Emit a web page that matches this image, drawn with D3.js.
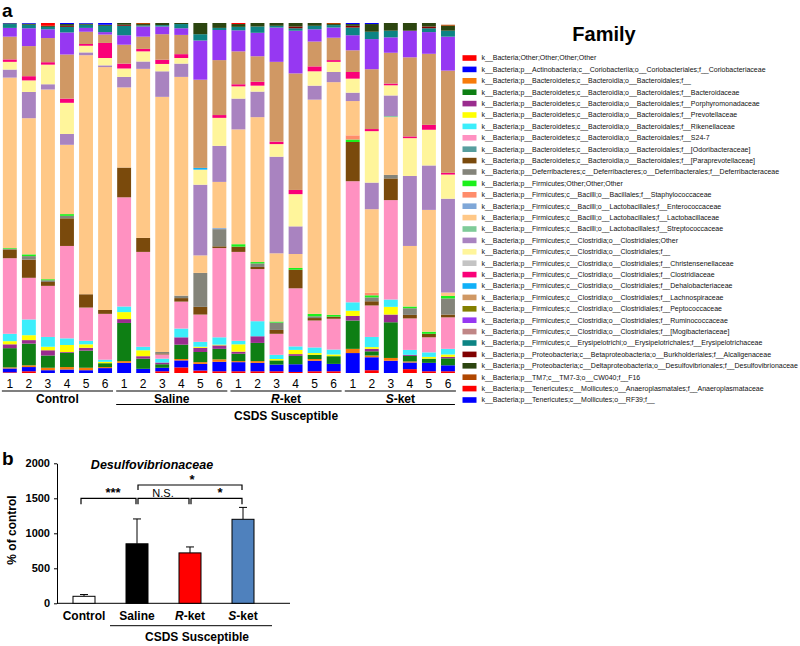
<!DOCTYPE html>
<html>
<head>
<meta charset="utf-8">
<script src="https://cdnjs.cloudflare.com/ajax/libs/d3/7.8.5/d3.min.js"></script>
<style>
  body { margin: 0; background: #fff; }
  text { font-family: Arial, "Liberation Sans", sans-serif; }
</style>
</head>
<body>
<script>
// ---- panel a data: relative abundance (%) per sample, bottom-up stack order ----
var groups = ["Control", "Saline", "R-ket", "S-ket"];
var sampleNums = ["1", "2", "3", "4", "5", "6"];
var samples = [];
groups.forEach(function(g) { sampleNums.forEach(function(n) { samples.push(g + " " + n); }); });

var taxa = [
  "k__Bacteria;Other;Other;Other;Other",
  "k__Bacteria;p__Actinobacteria;c__Coriobacteriia;o__Coriobacteriales;f__Coriobacteriaceae",
  "k__Bacteria;p__Bacteroidetes;c__Bacteroidia;o__Bacteroidales;f__",
  "k__Bacteria;p__Bacteroidetes;c__Bacteroidia;o__Bacteroidales;f__Bacteroidaceae",
  "k__Bacteria;p__Bacteroidetes;c__Bacteroidia;o__Bacteroidales;f__Porphyromonadaceae",
  "k__Bacteria;p__Bacteroidetes;c__Bacteroidia;o__Bacteroidales;f__Prevotellaceae",
  "k__Bacteria;p__Bacteroidetes;c__Bacteroidia;o__Bacteroidales;f__Rikenellaceae",
  "k__Bacteria;p__Bacteroidetes;c__Bacteroidia;o__Bacteroidales;f__S24-7",
  "k__Bacteria;p__Bacteroidetes;c__Bacteroidia;o__Bacteroidales;f__[Odoribacteraceae]",
  "k__Bacteria;p__Bacteroidetes;c__Bacteroidia;o__Bacteroidales;f__[Paraprevotellaceae]",
  "k__Bacteria;p__Deferribacteres;c__Deferribacteres;o__Deferribacterales;f__Deferribacteraceae",
  "k__Bacteria;p__Firmicutes;Other;Other;Other",
  "k__Bacteria;p__Firmicutes;c__Bacilli;o__Bacillales;f__Staphylococcaceae",
  "k__Bacteria;p__Firmicutes;c__Bacilli;o__Lactobacillales;f__Enterococcaceae",
  "k__Bacteria;p__Firmicutes;c__Bacilli;o__Lactobacillales;f__Lactobacillaceae",
  "k__Bacteria;p__Firmicutes;c__Bacilli;o__Lactobacillales;f__Streptococcaceae",
  "k__Bacteria;p__Firmicutes;c__Clostridia;o__Clostridiales;Other",
  "k__Bacteria;p__Firmicutes;c__Clostridia;o__Clostridiales;f__",
  "k__Bacteria;p__Firmicutes;c__Clostridia;o__Clostridiales;f__Christensenellaceae",
  "k__Bacteria;p__Firmicutes;c__Clostridia;o__Clostridiales;f__Clostridiaceae",
  "k__Bacteria;p__Firmicutes;c__Clostridia;o__Clostridiales;f__Dehalobacteriaceae",
  "k__Bacteria;p__Firmicutes;c__Clostridia;o__Clostridiales;f__Lachnospiraceae",
  "k__Bacteria;p__Firmicutes;c__Clostridia;o__Clostridiales;f__Peptococcaceae",
  "k__Bacteria;p__Firmicutes;c__Clostridia;o__Clostridiales;f__Ruminococcaceae",
  "k__Bacteria;p__Firmicutes;c__Clostridia;o__Clostridiales;f__[Mogibacteriaceae]",
  "k__Bacteria;p__Firmicutes;c__Erysipelotrichi;o__Erysipelotrichales;f__Erysipelotrichaceae",
  "k__Bacteria;p__Proteobacteria;c__Betaproteobacteria;o__Burkholderiales;f__Alcaligenaceae",
  "k__Bacteria;p__Proteobacteria;c__Deltaproteobacteria;o__Desulfovibrionales;f__Desulfovibrionaceae",
  "k__Bacteria;p__TM7;c__TM7-3;o__CW040;f__F16",
  "k__Bacteria;p__Tenericutes;c__Mollicutes;o__Anaeroplasmatales;f__Anaeroplasmataceae",
  "k__Bacteria;p__Tenericutes;c__Mollicutes;o__RF39;f__"
];

var taxaColors = [
  "#ff0000", "#0000ff", "#f77b0a", "#0e7f14", "#9a2c8e", "#ffff00", "#3ceefb", "#ff91c1",
  "#579e9e", "#7a4a0c", "#84847a", "#1cf01c", "#ff8c6b", "#7fa7d8", "#ffc887", "#7fcb99",
  "#a983c0", "#fff59b", "#c4c4c4", "#fa0078", "#10b0f8", "#d09864", "#838000", "#9638f2",
  "#c08686", "#0d8484", "#800000", "#2c4510", "#b04600", "#ff0000", "#0000ff"
];

// values per sample: Control 1-6, Saline 1-6, R-ket 1-6, S-ket 1-6
var otherBact       = [0.2,0.5,0,0,0,0,        0,0,0.5,1.6,0.7,0.5,    0.5,0.5,0.5,0.3,0.5,0.5, 0,0.8,0,1.1,0.5,0.5];
var coriobacteriac  = [1.1,1.2,0.8,1.0,0.8,1.4, 2.9,1.2,1.0,2.0,1.9,2.7, 2.6,2.4,1.9,2.2,3.0,2.1, 5.7,3.7,3.5,1.9,2.4,1.7];
var bacteroidalesF  = [0.3,0.5,0.7,0.7,0.7,0.3, 0.5,0,0,0.4,0.5,0.7,     0.3,0.5,0,0,0.5,0,      1.2,0.5,0.8,0.3,0,0];
var bacteroidaceae  = [5.5,6.2,3.5,4.1,4.9,1.1, 10.9,2.9,1.0,4.1,2.9,3.0, 2.1,5.2,1.2,2.4,1.2,2.2, 8.1,1.2,10.2,1.6,1.2,2.0];
var porphyromonad   = [1.1,1.0,1.5,0.2,0.8,0,   1.1,0.7,0.5,2.1,1.2,1.0, 0.6,1.9,0,0.5,0,0,      1.3,0.7,2.2,0.3,0,0.4];
var prevotellaceae  = [0.9,1.4,1.0,2.0,1.0,0.4, 2.0,1.7,0,0,0.3,0.2,     2.1,0,0.4,1.2,0.5,0.5,  1.5,0.5,2.2,0,0.5,0.7];
var rikenellaceae   = [2.1,4.5,2.8,1.9,1.0,0.6, 1.6,1.0,1.1,2.5,1.4,2.1, 1.0,4.3,1.2,1.0,1.6,1.4, 2.4,2.9,2.1,1.4,1.3,1.6];
var s24_7           = [21.6,11.9,14.6,26.4,9.5,13.1, 31.2,27.1,1.2,7.7,7.8,25.5, 25.4,14.9,6.0,16.6,7.7,8.8, 34.6,9.0,28.4,9.0,4.3,9.0];
var odoribacter     = [0,0,0,0,0,0, 0,0,0,0,0,0, 0,0,0,0,0,0, 0,0,0,0,0,0];
var paraprevotella  = [2.5,5.2,1.1,7.9,3.8,1.1, 8.5,4.0,0.3,1.0,2.2,0.5, 1.5,0.6,1.1,5.3,0.7,0.6, 11.2,1.2,6.2,1.0,1.0,0.8];
var deferribact     = [0.2,1.0,0.5,0.7,0,0,     0,0,0.4,0.7,9.7,4.9,     0,1.0,2.1,0,0.5,0,      0,1.1,1.0,1.9,0,4.6];
var firmicutesOther = [0.2,0.5,0.3,0.5,0,0,     0,0,0,0,0,0,             0.7,0.4,0.3,0.5,0.7,0.5, 0.7,0.6,0,0.5,0.6,0.7];
var staphylococc    = [0,0,0,0,0,0, 0,0,0,0,0,0, 0,0,0,0,0,0, 1.2,0.7,0,0,0,0];
var enterococc      = [0,0,0,0,0,0, 0,0,0,0,0,0.3, 0,0,0,0,0,0, 0,0,0,0,0,0];
var lactobacill     = [48.7,38.9,54.2,19.8,68.3,69.4, 22.9,48.3,72.9,62.5,5.0,13.2, 32.8,41.4,19.5,4.0,61.2,66.5, 9.8,23.9,16.5,17.3,34.8,1.0];
var streptococc     = [0,0,0,0,0,0, 0,0,0,0,0,0, 0,0,0,0,0,0, 0,0,0.3,0,0,0];
var clostOther      = [2.3,7.5,1.5,3.1,0.8,0.5, 3.0,2.1,7.3,3.8,20.2,10.3, 8.8,7.3,27.6,7.9,4.0,2.9, 2.4,7.6,5.9,20.0,12.7,26.8];
var clostF          = [2.2,3.3,5.6,8.9,1.9,2.1, 2.4,2.9,2.1,1.6,4.3,8.0, 3.5,1.7,3.6,9.2,4.1,2.9, 4.0,14.7,2.9,10.8,10.2,6.9];
var christensen     = [0,0,0,0,0,0, 0,0,0,0,0,0, 0,0,0,0,0,0, 0,0,0,0,0,0];
var clostridiaceae  = [0.7,1.2,0.7,1.2,0.5,4.3, 1.4,0.7,1.2,1.1,0,0.8, 0.6,1.1,0.7,1.2,1.4,0.5, 1.9,0.6,0.5,0.5,1.4,0.5];
var dehalobact      = [0,0,0,0,0,0, 0,0,0,0,0.5,0, 0,0,0,0,0,0, 0,0,0,0,0,0];
var lachnospir      = [6.5,8.6,6.9,12.6,3.5,2.4, 5.4,3.5,7.3,5.5,25.2,15.7, 9.4,7.3,22.8,33.3,7.1,6.4, 6.2,17.1,8.8,22.6,20.3,29.2];
var peptococc       = [0,0,0,0,0,0, 0,0,0,0,0,0, 0,0,0,0,0,0, 0,0,0,0,0,0];
var ruminococc      = [2.5,5.1,2.5,6.3,1.1,0.7, 2.7,2.9,2.2,1.9,11.2,8.6, 6.0,6.7,9.8,12.2,3.5,2.9, 4.3,8.6,4.4,7.6,6.2,9.7];
var mogibact        = [0,0,0,0,0,0, 0,0,0,0,0,0, 0,0,0,0,0,0, 0,0,0,0,0,0];
var erysipelo       = [1.1,1.0,0.7,1.6,0.9,1.8, 2.7,0.3,0.4,1.2,1.8,0.6, 1.0,1.8,0.5,0.7,1.0,0.7, 2.2,2.1,1.9,0,1.1,1.7];
var alcaligen       = [0,0,0,0.3,0,0, 0.3,0,0,0,0,0, 0,0,0,0.5,0,0, 0.5,0,0,0,0.5,0];
var desulfovib      = [0.2,0.3,0.3,0.5,0.3,0.3, 0.5,0.4,0.6,0.3,3.2,1.4, 0.8,1.0,0.8,1.0,0.8,0.3, 0.5,2.2,2.2,2.2,1.0,1.4];
var f16             = [0,0,0,0,0,0, 0,0.3,0,0,0,0, 0,0,0,0,0,0.3, 0,0,0,0,0,0.3];
var anaeroplasma    = [0,0,0.8,0,0,0, 0,0,0,0,0,0, 0.3,0,0,0,0,0, 0,0,0,0,0,0];
var rf39            = [0.1,0.2,0,0.3,0.2,0.5, 0,0,0,0,0,0, 0,0,0,0,0,0, 0.3,0.3,0,0,0,0];

var series = [otherBact, coriobacteriac, bacteroidalesF, bacteroidaceae, porphyromonad, prevotellaceae,
  rikenellaceae, s24_7, odoribacter, paraprevotella, deferribact, firmicutesOther, staphylococc,
  enterococc, lactobacill, streptococc, clostOther, clostF, christensen, clostridiaceae, dehalobact,
  lachnospir, peptococc, ruminococc, mogibact, erysipelo, alcaligen, desulfovib, f16, anaeroplasma, rf39];

// ---- panel b data ----
var bGroups = ["Control", "Saline", "R-ket", "S-ket"];
var bMeans = [100, 850, 720, 1200];
var bSem = [25, 355, 85, 170];
var bFills = ["#ffffff", "#000000", "#ff0000", "#4f81bd"];
var bTicks = [0, 500, 1000, 1500, 2000];

var svg = d3.select("body").append("svg")
    .attr("width", 800)
    .attr("height", 646);

svg.append("rect").attr("width", 800).attr("height", 646).attr("fill", "#fff");

// ================= panel a =================
svg.append("text").attr("x", 2).attr("y", 17)
  .attr("font-size", "19px").attr("font-weight", "bold").text("a");

var rows = samples.map(function(s, i) {
  var r = { sample: s };
  series.forEach(function(arr, k) { r[k] = arr[i]; });
  return r;
});

var stack = d3.stack().keys(d3.range(series.length));
var layers = stack(rows);

var xA = d3.scaleBand().domain(samples).range([0.3, 457.5])
    .paddingInner(0.27).paddingOuter(0.135);
var yA = d3.scaleLinear().domain([0, 100]).range([373, 23]);

svg.append("g").selectAll("g")
  .data(layers)
  .join("g")
    .attr("fill", function(d, i) { return taxaColors[i]; })
  .selectAll("rect")
  .data(function(d) { return d; })
  .join("rect")
    .attr("x", function(d) { return xA(d.data.sample); })
    .attr("width", xA.bandwidth())
    .attr("y", function(d) { return yA(d[1]); })
    .attr("height", function(d) { return Math.max(0, yA(d[0]) - yA(d[1])); });

// sample numbers
svg.append("g").selectAll("text")
  .data(samples)
  .join("text")
    .attr("x", function(d) { return xA(d) + xA.bandwidth() / 2; })
    .attr("y", 388)
    .attr("text-anchor", "middle")
    .attr("font-size", "12px")
    .text(function(d) { return d.split(" ")[1]; });

// group underlines and names
groups.forEach(function(g, gi) {
  var first = xA(g + " 1"), last = xA(g + " 6") + xA.bandwidth();
  svg.append("line")
    .attr("x1", first - 1).attr("x2", last + 1)
    .attr("y1", 391).attr("y2", 391)
    .attr("stroke", "#000").attr("stroke-width", 1.2);
  var t = svg.append("text")
    .attr("x", (first + last) / 2).attr("y", 402.5)
    .attr("text-anchor", "middle")
    .attr("font-size", "12px").attr("font-weight", "bold");
  if (g.indexOf("-ket") > 0) {
    t.append("tspan").attr("font-style", "italic").text(g.charAt(0));
    t.append("tspan").text(g.slice(1));
  } else {
    t.text(g);
  }
});

svg.append("line")
  .attr("x1", xA("Saline 1") - 1).attr("x2", xA("S-ket 6") + xA.bandwidth())
  .attr("y1", 404.5).attr("y2", 404.5)
  .attr("stroke", "#000").attr("stroke-width", 1.2);
svg.append("text")
  .attr("x", (xA("Saline 1") + xA("S-ket 6") + xA.bandwidth()) / 2)
  .attr("y", 419.5)
  .attr("text-anchor", "middle")
  .attr("font-size", "12px").attr("font-weight", "bold")
  .text("CSDS Susceptible");

// legend
svg.append("text").attr("x", 604).attr("y", 41)
  .attr("text-anchor", "middle")
  .attr("font-size", "20px").attr("font-weight", "bold").text("Family");

var legend = svg.append("g").selectAll("g")
  .data(taxa)
  .join("g")
    .attr("transform", function(d, i) { return "translate(462.5," + (58 + i * 11.4) + ")"; });

legend.append("rect")
  .attr("x", 0).attr("y", -2.8)
  .attr("width", 14).attr("height", 5.6)
  .attr("fill", function(d, i) { return taxaColors[i]; });

legend.append("text")
  .attr("x", 19).attr("y", 0)
  .attr("dy", "0.35em")
  .attr("font-size", "7px")
  .attr("fill", "#111")
  .text(function(d) { return d; });

// ================= panel b =================
svg.append("text").attr("x", 2).attr("y", 465)
  .attr("font-size", "19px").attr("font-weight", "bold").text("b");

svg.append("text").attr("x", 152).attr("y", 469)
  .attr("text-anchor", "middle")
  .attr("font-size", "12.5px").attr("font-weight", "bold").attr("font-style", "italic")
  .text("Desulfovibrionaceae");

var xB = d3.scaleBand().domain(bGroups).range([57.5, 269.5])
    .paddingInner(0.585).paddingOuter(0.2925);
var yB = d3.scaleLinear().domain([0, 2000]).range([603.3, 463.3]);

var yAxis = svg.append("g")
  .attr("transform", "translate(57,0)")
  .call(d3.axisLeft(yB).tickValues(bTicks).tickFormat(d3.format("d"))
    .tickSizeInner(3).tickSizeOuter(0).tickPadding(4));
yAxis.selectAll("text").attr("font-size", "11px").attr("font-weight", "bold")
  .attr("font-family", "Arial, 'Liberation Sans', sans-serif").attr("fill", "#000");
yAxis.selectAll("line, path").attr("stroke", "#000");

svg.append("line")
  .attr("x1", 57).attr("x2", 290).attr("y1", 603.3).attr("y2", 603.3)
  .attr("stroke", "#000");

svg.append("text")
  .attr("transform", "translate(16,530) rotate(-90)")
  .attr("text-anchor", "middle")
  .attr("font-size", "12px").attr("font-weight", "bold")
  .text("% of control");

// error bars (upper only)
bGroups.forEach(function(g, i) {
  var cx = xB(g) + xB.bandwidth() / 2;
  svg.append("line")
    .attr("x1", cx).attr("x2", cx)
    .attr("y1", yB(bMeans[i])).attr("y2", yB(bMeans[i] + bSem[i]))
    .attr("stroke", "#000");
  svg.append("line")
    .attr("x1", cx - 4).attr("x2", cx + 4)
    .attr("y1", yB(bMeans[i] + bSem[i])).attr("y2", yB(bMeans[i] + bSem[i]))
    .attr("stroke", "#000");
});

svg.append("g").selectAll("rect")
  .data(bGroups)
  .join("rect")
    .attr("x", function(d) { return xB(d); })
    .attr("width", xB.bandwidth())
    .attr("y", function(d, i) { return yB(bMeans[i]); })
    .attr("height", function(d, i) { return yB(0) - yB(bMeans[i]); })
    .attr("fill", function(d, i) { return bFills[i]; })
    .attr("stroke", "#000")
    .attr("stroke-width", 1);

// x labels
bGroups.forEach(function(g) {
  var t = svg.append("text")
    .attr("x", xB(g) + xB.bandwidth() / 2).attr("y", 620)
    .attr("text-anchor", "middle")
    .attr("font-size", "12px").attr("font-weight", "bold");
  if (g.indexOf("-ket") > 0) {
    t.append("tspan").attr("font-style", "italic").text(g.charAt(0));
    t.append("tspan").text(g.slice(1));
  } else {
    t.text(g);
  }
});

svg.append("line")
  .attr("x1", 110).attr("x2", 272).attr("y1", 625.7).attr("y2", 625.7)
  .attr("stroke", "#000");
svg.append("text")
  .attr("x", 197).attr("y", 640.5)
  .attr("text-anchor", "middle")
  .attr("font-size", "12px").attr("font-weight", "bold")
  .text("CSDS Susceptible");

// significance brackets
function bracket(a, b, yLine, drop, label, lx) {
  var x1 = xB(a) + xB.bandwidth() / 2 + (a === "Control" ? -3 : 1);
  var x2 = xB(b) + xB.bandwidth() / 2 - 1;
  svg.append("path")
    .attr("d", "M" + x1 + "," + (yLine + drop) + "V" + yLine + "H" + x2 + "V" + (yLine + drop))
    .attr("fill", "none").attr("stroke", "#000").attr("stroke-width", 1.2);
  svg.append("text")
    .attr("x", lx).attr("y", yLine - 1.5)
    .attr("text-anchor", "middle")
    .attr("font-size", label === "N.S." ? "11px" : "13px")
    .attr("font-weight", label === "N.S." ? "normal" : "bold")
    .text(label);
}
bracket("Control", "Saline", 498.3, 6, "***", 113);
bracket("Saline", "R-ket", 498.3, 6, "N.S.", 163);
bracket("R-ket", "S-ket", 498.3, 6, "*", 220);
bracket("Saline", "S-ket", 485, 5, "*", 192);
</script>
</body>
</html>
